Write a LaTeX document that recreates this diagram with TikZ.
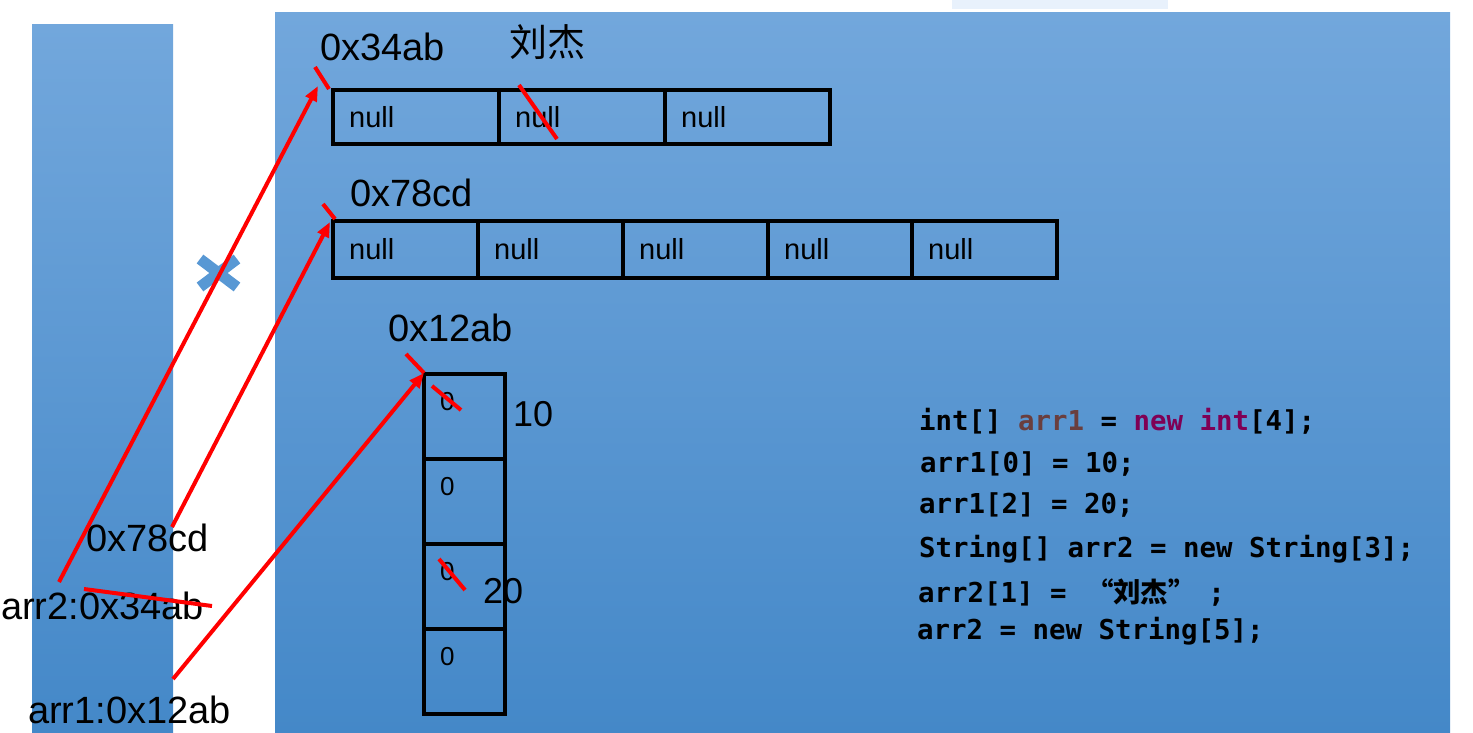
\documentclass[tikz,border=0pt]{standalone}
\usepackage{fontspec}
\setmainfont{Liberation Sans}
\newfontfamily\codefont{DejaVu Sans Mono}
\newfontfamily\cjk{Noto Sans CJK SC}
\usetikzlibrary{positioning,arrows.meta}
\definecolor{heaptop}{RGB}{114,167,220}
\definecolor{heapbot}{RGB}{68,136,200}
\definecolor{crossblue}{RGB}{88,152,212}
\definecolor{localvar}{RGB}{106,62,62}
\definecolor{keyword}{RGB}{127,0,85}
\definecolor{topbar}{RGB}{232,241,252}

\begin{document}
\begin{tikzpicture}[x=1pt,y=-1pt,
    cell/.style={draw, line width=3.3pt, outer sep=0pt, inner sep=0pt, minimum width=#1},
    celltext/.style={anchor=west, xshift=16pt, inner sep=0pt, font=\fontsize{29}{30}\selectfont},
    addr/.style={anchor=base west, inner sep=0pt, font=\fontsize{38}{40}\selectfont},
    codeline/.style={anchor=base west, inner sep=0pt, font=\codefont\bfseries\fontsize{27.4}{30}\selectfont},
    ref/.style={red, line width=4pt, -{Triangle[length=15pt,width=12pt]}},
    strike/.style={red, line width=4pt}]

            \useasboundingbox (0,0) rectangle (1473,733);

            % Draw stack and heap
            \fill[topbar] (952,0) rectangle (1168,9);
            \shade[top color=heaptop, bottom color=heapbot] (32,25) rectangle (173,733);
            \shade[top color=heaptop, bottom color=heapbot] (275,13) rectangle (1450,733);

            % String[3]
            \node[cell=166pt, minimum height=54pt, anchor=north west, label={[celltext]west:null}] (sa) at (333,90) {};
            \node[cell=166pt, minimum height=54pt, right=0pt of sa, label={[celltext]west:null}] (sb) {};
            \node[cell=165pt, minimum height=54pt, right=0pt of sb, label={[celltext]west:null}] (sc) {};

            % String[5]
            \node[cell=145pt, minimum height=57pt, anchor=north west, label={[celltext]west:null}] (ta) at (333,221) {};
            \node[cell=145pt, minimum height=57pt, right=0pt of ta, label={[celltext]west:null}] (tb) {};
            \node[cell=145pt, minimum height=57pt, right=0pt of tb, label={[celltext]west:null}] (tc) {};
            \node[cell=144pt, minimum height=57pt, right=0pt of tc, label={[celltext]west:null}] (td) {};
            \node[cell=145pt, minimum height=57pt, right=0pt of td, label={[celltext]west:null}] (te) {};

            % int[4]
            \node[cell=81pt, minimum height=85pt, anchor=north west, label={[celltext, yshift=15pt, font=\fontsize{26}{28}\selectfont]west:0}] (ia) at (424,374) {};
            \node[cell=81pt, minimum height=85pt, below=0pt of ia, label={[celltext, yshift=15pt, font=\fontsize{26}{28}\selectfont]west:0}] (ib) {};
            \node[cell=81pt, minimum height=85pt, below=0pt of ib, label={[celltext, yshift=15pt, font=\fontsize{26}{28}\selectfont]west:0}] (ic) {};
            \node[cell=81pt, minimum height=85pt, below=0pt of ic, label={[celltext, yshift=15pt, font=\fontsize{26}{28}\selectfont]west:0}] (id) {};

            % Addresses and values
            \node[addr] (addr34) at (320,61) {0x34ab};
            \node[addr, font=\cjk\fontsize{38}{40}\selectfont] (name) at (509,57) {刘杰};
            \node[addr] (addr78) at (350,206) {0x78cd};
            \node[addr] (addr12) at (388,341) {0x12ab};
            \node[addr, font=\fontsize{36}{38}\selectfont] (ten) at (513,426) {10};
            \node[addr, font=\fontsize{36}{38}\selectfont] (twenty) at (483,603) {20};

            % Stack variables
            \node[addr] (var78) at (86,551) {0x78cd};
            \node[addr] (var34) at (1,619) {arr2:0x34ab};
            \node[addr] (var12) at (28,723) {arr1:0x12ab};

            % Crossed out reference
            \draw[crossblue, line width=11pt] (200,259) -- (237,287) (200,287) -- (237,259);

            % Draw references
            \coordinate (from34) at (59,582);
            \coordinate (to34) at (318,86);
            \coordinate (from78) at (172,527);
            \coordinate (to78) at (330,222);
            \coordinate (from12) at (173,679);
            \coordinate (to12) at (424,373);
            \draw[ref] (from34) -- (to34);
            \draw[ref] (from78) -- (to78);
            \draw[ref] (from12) -- (to12);

            \draw[strike] (315,67) -- (329,89);
            \draw[strike] (323,204) -- (335,219);
            \draw[strike] (406,354) -- (424,373);
            \draw[strike] (519,85) -- (557,139);
            \draw[strike] (432,386) -- (461,410);
            \draw[strike] (439,559) -- (465,590);
            \draw[strike] (84,589) -- (212,606);

            % Code
            \node[codeline] (code1) at (919,430) {int[] {\color{localvar}arr1} = {\color{keyword}new int}[4];};
            \node[codeline] (code2) at (920,472) {arr1[0] = 10;};
            \node[codeline] (code3) at (919,513) {arr1[2] = 20;};
            \node[codeline] (code4) at (919,557) {String[] arr2 = new String[3];};
            \node[codeline] (code5) at (918,602) {arr2[1] = \hspace{3pt}{\cjk\bfseries “刘杰”}\hspace{-4pt} ;};
            \node[codeline] (code6) at (917,639) {arr2 = new String[5];};
        \end{tikzpicture}
\end{document}
